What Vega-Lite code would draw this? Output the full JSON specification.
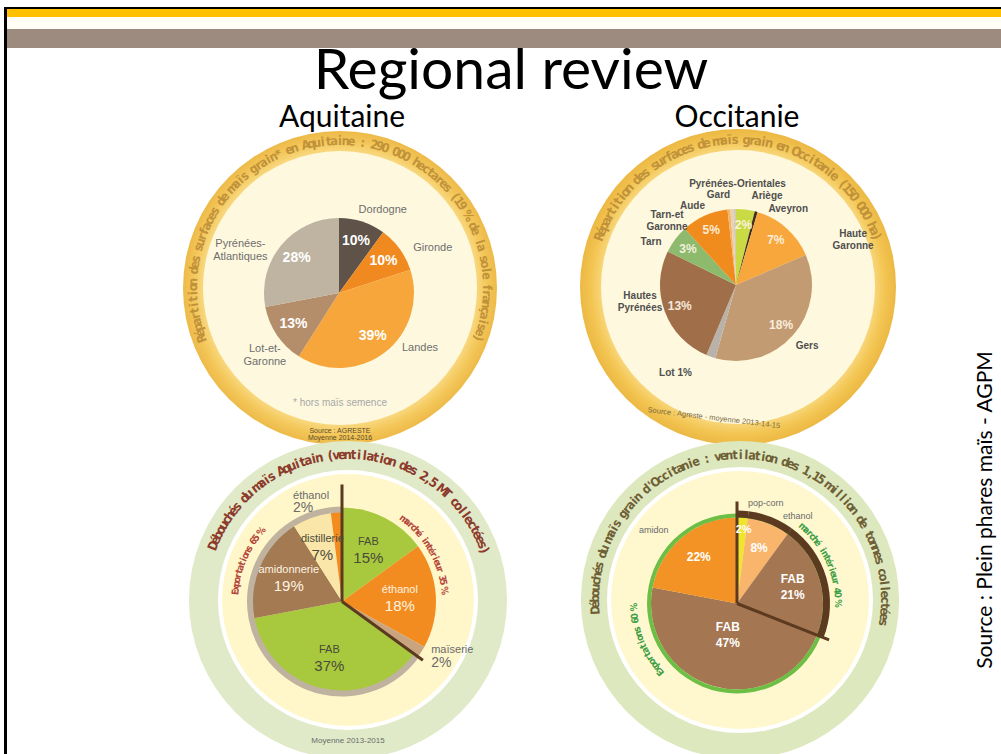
{
"$schema":"https://vega.github.io/schema/vega-lite/v6.json",
"background":"#FFFFFF",
"padding":{"left":4,"top":7,"right":0,"bottom":0},
"config":{"view":{"stroke":null},"font":"Liberation Sans"},
"datasets":{
"p1":[{"d":"Dordogne","v":0.10},{"d":"Gironde","v":0.10},{"d":"Landes","v":0.39},{"d":"Lot-et-\nGaronne","v":0.13},{"d":"Pyrénées-\nAtlantiques","v":0.28}],
"p2":[{"d":"Ariège","lab":"Ariège","v":0.02},{"d":"Aveyron","lab":"Aveyron","v":0.003},{"d":"Haute-Garonne","lab":"Haute\nGaronne","v":0.07},{"d":"Gers","lab":"Gers","v":0.18},{"d":"Lot","lab":"Lot 1%","v":0.01},{"d":"Hautes-Pyrénées","lab":"Hautes\nPyrénées","v":0.13},{"d":"Tarn","lab":"Tarn","v":0.03},{"d":"Tarn-et-Garonne","lab":"Tarn-et\nGaronne","v":0.05},{"d":"Aude","lab":"Aude","v":0.003},{"d":"Gard","lab":"Gard","v":0.003},{"d":"Pyrénées-Orientales","lab":"Pyrénées-Orientales","v":0.003}],
"p3":[{"d":"FAB","g":"int","v":0.15},{"d":"éthanol","g":"int","v":0.18},{"d":"maïserie","g":"int","v":0.02},{"d":"FAB","g":"exp","v":0.37},{"d":"amidonnerie","g":"exp","v":0.19},{"d":"distillerie","g":"exp","v":0.07},{"d":"éthanol","g":"exp","v":0.02}],
"p4":[{"d":"pop-corn","g":"int","v":0.02},{"d":"ethanol","g":"int","v":0.08},{"d":"FAB","g":"int","v":0.21},{"d":"FAB","g":"exp","v":0.47},{"d":"amidon","g":"exp","v":0.22}],
"t1":[{"c":["R","é","p","a","r","t","i","t","i","o","n"," ","d","e","s"," ","s","u","r","f","a","c","e","s"," ","d","e"," ","m","a","ï","s"," ","g","r","a","i","n","*"," ","e","n"," ","A","q","u","i","t","a","i","n","e"," ",":"," ","2","9","0"," ","0","0","0"," ","h","e","c","t","a","r","e","s"," ","(","1","9"," ","%"," ","d","e"," ","l","a"," ","s","o","l","e"," ","f","r","a","n","ç","a","i","s","e",")"]}],
"t2":[{"c":["R","é","p","a","r","t","i","t","i","o","n"," ","d","e","s"," ","s","u","r","f","a","c","e","s"," ","d","e"," ","m","a","ï","s"," ","g","r","a","i","n"," ","e","n"," ","O","c","c","i","t","a","n","i","e"," ","(","1","5","0"," ","0","0","0"," ","h","a",")"]}],
"t3":[{"c":["D","é","b","o","u","c","h","é","s"," ","d","u"," ","m","a","ï","s"," ","A","q","u","i","t","a","i","n"," ","(","v","e","n","t","i","l","a","t","i","o","n"," ","d","e","s"," ","2",",","5"," ","M","T"," ","c","o","l","l","e","c","t","é","e","s",")"]}],
"t4":[{"c":["D","é","b","o","u","c","h","é","s"," ","d","u"," ","m","a","ï","s"," ","g","r","a","i","n"," ","d","'","O","c","c","i","t","a","n","i","e"," ",":"," ","v","e","n","t","i","l","a","t","i","o","n"," ","d","e","s"," ","1",",","1","5"," ","m","i","l","l","i","o","n"," ","d","e"," ","t","o","n","n","e","s"," ","c","o","l","l","e","c","t","é","e","s"]}],
"i3a":[{"c":["E","x","p","o","r","t","a","t","i","o","n","s"," ","6","5"," ","%"]}],
"i3b":[{"c":["m","a","r","c","h","é"," ","i","n","t","é","r","i","e","u","r"," ","3","5"," ","%"]}],
"i4a":[{"c":["E","x","p","o","r","t","a","t","i","o","n","s"," ","6","0"," ","%"]}],
"i4b":[{"c":["m","a","r","c","h","é"," ","i","n","t","é","r","i","e","u","r"," ","4","0"," ","%"]}]
},
"spacing":0,
"bounds":"flush",
"resolve":{"scale":{"color":"independent","theta":"independent","angle":"independent"}},
"hconcat":[
{"width":3,"height":747,"view":{"fill":"#000000"},"data":{"values":[]},"mark":"point","encoding":{}},
{"spacing":0,"bounds":"flush","resolve":{"scale":{"color":"independent","theta":"independent","angle":"independent"}},"vconcat":[
{"width":994,"height":2,"view":{"fill":"#000000"},"data":{"values":[]},"mark":"point","encoding":{}},
{"width":994,"height":8,"view":{"fill":"#FFC000"},"data":{"values":[]},"mark":"point","encoding":{}},
{"width":994,"height":12,"view":{"fill":"#FFFDF4"},"data":{"values":[]},"mark":"point","encoding":{}},
{"width":994,"height":19,"view":{"fill":"#9E8B7F"},"data":{"values":[]},"mark":"point","encoding":{}},
{"width":994,"height":48,"data":{"values":[{}]},"mark":{"type":"text","text":"Regional review","font":"Lato","fontSize":57,"fill":"#000000","baseline":"alphabetic","dx":7,"dy":17},"encoding":{}},
{"spacing":0,"bounds":"full","resolve":{"scale":{"color":"independent","theta":"independent","angle":"independent"}},"hconcat":[
{"width":135,"height":658,"data":{"values":[]},"mark":"point","encoding":{}},
{"spacing":0,"bounds":"flush","resolve":{"scale":{"color":"independent","theta":"independent","angle":"independent"}},"vconcat":[
{"width":400,"height":35,"data":{"values":[{}]},"mark":{"type":"text","text":"Aquitaine","font":"Lato","fontSize":30,"fill":"#000000","baseline":"alphabetic","dy":13.5},"encoding":{}},
{"width":400,"height":312,
"resolve":{"scale":{"theta":"independent","angle":"independent"}},
"layer":[
{"data":{"values":[{}]},"mark":{"type":"arc","theta":0,"theta2":6.2832,"radius":157,"xOffset":-2,"yOffset":1,"fill":{"gradient":"radial","x1":0.5,"y1":0.5,"x2":0.5,"y2":0.5,"r1":0,"r2":0.5,"stops":[{"offset":0.86,"color":"#F9DB85"},{"offset":0.93,"color":"#F4C85C"},{"offset":1,"color":"#EDBA48"}]}},"encoding":{}},
{"data":{"values":[{}]},"mark":{"type":"arc","theta":0,"theta2":6.2832,"radius":137,"fill":"#FEF8DE","xOffset":-2,"yOffset":1},"encoding":{}},
{"data":{"name":"t1"},"transform":[{"flatten":["c"]},{"window":[{"op":"row_number","as":"k"}]}],"mark":{"type":"text","radius":147,"xOffset":-2,"yOffset":1,"font":"Liberation Sans Narrow, DejaVu Sans Condensed","fontSize":12.5,"fontWeight":"bold","fill":"#C1923A","baseline":"middle"},"encoding":{"theta":{"field":"k","type":"quantitative","scale":{"zero":false,"nice":false,"range":[-1.9199,1.9199]}},"angle":{"field":"k","type":"quantitative","scale":{"zero":false,"nice":false,"range":[-110,110]}},"text":{"field":"c","type":"nominal"}}},
{"data":{"name":"p1"},"transform":[{"window":[{"op":"row_number","as":"i"}]}],"mark":{"type":"arc","radius":75,"xOffset":-3,"yOffset":6},"encoding":{"theta":{"field":"v","type":"quantitative","stack":true},"order":{"field":"i","type":"quantitative"},"color":{"field":"d","type":"nominal","legend":null,"scale":{"domain":["Dordogne","Gironde","Landes","Lot-et-\nGaronne","Pyrénées-\nAtlantiques"],"range":["#5E5249","#F08A20","#F7A63B","#B48D6A","#BFB4A2"]}}}},
{"data":{"name":"p1"},"transform":[{"window":[{"op":"row_number","as":"i"}]}],"mark":{"type":"text","radius":55,"xOffset":-3,"yOffset":6,"fontSize":14,"fontWeight":"bold","fill":"#FFFFFF"},"encoding":{"theta":{"field":"v","type":"quantitative","stack":true},"order":{"field":"i","type":"quantitative"},"text":{"field":"v","type":"quantitative","format":".0%"}}},
{"data":{"name":"p1"},"transform":[{"window":[{"op":"row_number","as":"i"}]}],"mark":{"type":"text","radius":80,"xOffset":-3,"yOffset":6,"dx":19,"dy":-7,"fontSize":11,"fill":"#6E6E6E","lineBreak":"\n"},"encoding":{"theta":{"field":"v","type":"quantitative","stack":true},"order":{"field":"i","type":"quantitative"},"text":{"condition":{"test":"datum.i===1","field":"d","type":"nominal"},"value":""}}},
{"data":{"name":"p1"},"transform":[{"window":[{"op":"row_number","as":"i"}]}],"mark":{"type":"text","radius":80,"xOffset":-3,"yOffset":6,"dx":29,"dy":2,"fontSize":11,"fill":"#6E6E6E","lineBreak":"\n"},"encoding":{"theta":{"field":"v","type":"quantitative","stack":true},"order":{"field":"i","type":"quantitative"},"text":{"condition":{"test":"datum.i===2","field":"d","type":"nominal"},"value":""}}},
{"data":{"name":"p1"},"transform":[{"window":[{"op":"row_number","as":"i"}]}],"mark":{"type":"text","radius":80,"xOffset":-3,"yOffset":6,"dx":32,"dy":-8,"fontSize":11,"fill":"#6E6E6E","lineBreak":"\n"},"encoding":{"theta":{"field":"v","type":"quantitative","stack":true},"order":{"field":"i","type":"quantitative"},"text":{"condition":{"test":"datum.i===3","field":"d","type":"nominal"},"value":""}}},
{"data":{"name":"p1"},"transform":[{"window":[{"op":"row_number","as":"i"}]}],"mark":{"type":"text","radius":80,"xOffset":-3,"yOffset":6,"dx":-8,"dy":11,"fontSize":11,"fill":"#6E6E6E","lineBreak":"\n"},"encoding":{"theta":{"field":"v","type":"quantitative","stack":true},"order":{"field":"i","type":"quantitative"},"text":{"condition":{"test":"datum.i===4","field":"d","type":"nominal"},"value":""}}},
{"data":{"name":"p1"},"transform":[{"window":[{"op":"row_number","as":"i"}]}],"mark":{"type":"text","radius":80,"xOffset":-3,"yOffset":6,"dx":-37,"dy":2,"fontSize":11,"fill":"#6E6E6E","lineBreak":"\n"},"encoding":{"theta":{"field":"v","type":"quantitative","stack":true},"order":{"field":"i","type":"quantitative"},"text":{"condition":{"test":"datum.i===5","field":"d","type":"nominal"},"value":""}}},
{"data":{"values":[{}]},"mark":{"type":"text","text":"* hors maïs semence","dx":-2,"dy":116,"fontSize":10,"fill":"#A8A8A8"},"encoding":{}},
{"data":{"values":[{}]},"mark":{"type":"text","text":"Source : AGRESTE","dx":-2,"dy":144,"fontSize":7,"fill":"#5B4B2A"},"encoding":{}},
{"data":{"values":[{}]},"mark":{"type":"text","text":"Moyenne 2014-2016","dx":-2,"dy":151,"fontSize":7,"fill":"#5B4B2A"},"encoding":{}}
]},
{"width":400,"height":311,
"resolve":{"scale":{"theta":"independent","angle":"independent"}},
"layer":[
{"data":{"values":[{}]},"mark":{"type":"arc","theta":0,"theta2":6.2832,"radius":159,"fill":"#E1EAC8","xOffset":6,"yOffset":1.5},"encoding":{}},
{"data":{"values":[{}]},"mark":{"type":"arc","theta":0,"theta2":6.2832,"radius":130,"fill":"#FFFFFF","xOffset":6,"yOffset":1.5},"encoding":{}},
{"data":{"values":[{}]},"mark":{"type":"arc","theta":0,"theta2":6.2832,"radius":126,"fill":"#FFF7CA","xOffset":6,"yOffset":1.5},"encoding":{}},
{"data":{"name":"t3"},"transform":[{"flatten":["c"]},{"window":[{"op":"row_number","as":"k"}]}],"mark":{"type":"text","radius":145,"xOffset":6,"yOffset":1.5,"font":"Liberation Sans Narrow, DejaVu Sans Condensed","fontSize":13,"fontWeight":"bold","fill":"#8C3B2C","baseline":"middle"},"encoding":{"theta":{"field":"k","type":"quantitative","scale":{"zero":false,"nice":false,"range":[-1.1868,1.2217]}},"angle":{"field":"k","type":"quantitative","scale":{"zero":false,"nice":false,"range":[-68,70]}},"text":{"field":"c","type":"nominal"}}},
{"data":{"name":"i3a"},"transform":[{"flatten":["c"]},{"window":[{"op":"row_number","as":"k"}]}],"mark":{"type":"text","radius":107,"yOffset":3,"font":"Liberation Sans Narrow, DejaVu Sans Condensed","fontSize":9.5,"fontWeight":"bold","fill":"#B5473A","baseline":"middle"},"encoding":{"theta":{"field":"k","type":"quantitative","scale":{"zero":false,"nice":false,"range":[4.7997,5.4280]}},"angle":{"field":"k","type":"quantitative","scale":{"zero":false,"nice":false,"range":[275,311]}},"text":{"field":"c","type":"nominal"}}},
{"data":{"name":"i3b"},"transform":[{"flatten":["c"]},{"window":[{"op":"row_number","as":"k"}]}],"mark":{"type":"text","radius":103,"yOffset":3,"font":"Liberation Sans Narrow, DejaVu Sans Condensed","fontSize":9.5,"fontWeight":"bold","fill":"#B5473A","baseline":"middle"},"encoding":{"theta":{"field":"k","type":"quantitative","scale":{"zero":false,"nice":false,"range":[0.6458,1.4661]}},"angle":{"field":"k","type":"quantitative","scale":{"zero":false,"nice":false,"range":[37,84]}},"text":{"field":"c","type":"nominal"}}},
{"data":{"name":"p3"},"transform":[{"window":[{"op":"row_number","as":"i"}]}],"mark":{"type":"arc","radius":94,"yOffset":3},"encoding":{"theta":{"field":"v","type":"quantitative","stack":true},"order":{"field":"i","type":"quantitative"},"color":{"field":"d","type":"nominal","legend":null,"scale":{"domain":["FAB","éthanol","maïserie","amidonnerie","distillerie"],"range":["#A8C93E","#F28C20","#C9A57F","#A37A52","#FAE6A8"]}}}},
{"data":{"name":"p3"},"transform":[{"window":[{"op":"row_number","as":"i"}]}],"mark":{"type":"arc","radius":95,"radius2":89,"yOffset":3},"encoding":{"theta":{"field":"v","type":"quantitative","stack":true},"order":{"field":"i","type":"quantitative"},"color":{"condition":{"test":"datum.g==='exp'","value":"#BFB29E"},"value":"transparent"}}},
{"data":{"name":"p3"},"transform":[{"window":[{"op":"row_number","as":"i"}]},{"stack":"v","groupby":[],"sort":[{"field":"i","order":"ascending"}],"as":["s0","s1"]},{"joinaggregate":[{"op":"min","field":"i","as":"mi"}],"groupby":["g"]},{"filter":"datum.i===datum.mi && datum.g==='int'"}],"mark":{"type":"arc","radius":117,"yOffset":3,"fill":"transparent","stroke":"#5B3A1F","strokeWidth":3},"encoding":{"theta":{"field":"s0","type":"quantitative","stack":null,"scale":{"domain":[0,1]}},"theta2":{"field":"s0"}}},
{"data":{"name":"p3"},"transform":[{"window":[{"op":"row_number","as":"i"}]},{"stack":"v","groupby":[],"sort":[{"field":"i","order":"ascending"}],"as":["s0","s1"]},{"joinaggregate":[{"op":"min","field":"i","as":"mi"}],"groupby":["g"]},{"filter":"datum.i===datum.mi && datum.g==='exp'"}],"mark":{"type":"arc","radius":100,"yOffset":3,"fill":"transparent","stroke":"#5B3A1F","strokeWidth":3},"encoding":{"theta":{"field":"s0","type":"quantitative","stack":null,"scale":{"domain":[0,1]}},"theta2":{"field":"s0"}}},
{"data":{"name":"p3"},"transform":[{"window":[{"op":"row_number","as":"i"}]}],"mark":{"type":"text","radius":58,"yOffset":3,"dy":-8,"fontSize":11},"encoding":{"theta":{"field":"v","type":"quantitative","stack":true},"order":{"field":"i","type":"quantitative"},"text":{"condition":{"test":"datum.v>0.03","field":"d","type":"nominal"},"value":""},"color":{"condition":{"test":"datum.i===2 || datum.i===5","value":"#FFF3E0"},"value":"#4A4A3A"}}},
{"data":{"name":"p3"},"transform":[{"window":[{"op":"row_number","as":"i"}]}],"mark":{"type":"text","radius":58,"yOffset":3,"dy":8,"fontSize":15},"encoding":{"theta":{"field":"v","type":"quantitative","stack":true},"order":{"field":"i","type":"quantitative"},"text":{"condition":{"test":"datum.v>0.03","field":"v","type":"quantitative","format":".0%"},"value":""},"color":{"condition":{"test":"datum.i===2 || datum.i===5","value":"#FFF3E0"},"value":"#4A4A3A"}}},
{"data":{"name":"p3"},"transform":[{"window":[{"op":"row_number","as":"i"}]}],"mark":{"type":"text","radius":95,"yOffset":3,"dx":-43,"dy":-11,"align":"left","fontSize":11,"fill":"#6A6A6A"},"encoding":{"theta":{"field":"v","type":"quantitative","stack":true},"order":{"field":"i","type":"quantitative"},"text":{"condition":{"test":"datum.i===7","field":"d","type":"nominal"},"value":""}}},
{"data":{"name":"p3"},"transform":[{"window":[{"op":"row_number","as":"i"}]}],"mark":{"type":"text","radius":95,"yOffset":3,"dx":-43,"dy":1,"align":"left","fontSize":14,"fill":"#6A6A6A"},"encoding":{"theta":{"field":"v","type":"quantitative","stack":true},"order":{"field":"i","type":"quantitative"},"text":{"condition":{"test":"datum.i===7","field":"v","type":"quantitative","format":".0%"},"value":""}}},
{"data":{"name":"p3"},"transform":[{"window":[{"op":"row_number","as":"i"}]}],"mark":{"type":"text","radius":95,"yOffset":3,"dx":9,"dy":-2,"align":"left","fontSize":11,"fill":"#6A6A6A"},"encoding":{"theta":{"field":"v","type":"quantitative","stack":true},"order":{"field":"i","type":"quantitative"},"text":{"condition":{"test":"datum.i===3","field":"d","type":"nominal"},"value":""}}},
{"data":{"name":"p3"},"transform":[{"window":[{"op":"row_number","as":"i"}]}],"mark":{"type":"text","radius":95,"yOffset":3,"dx":9,"dy":11,"align":"left","fontSize":14,"fill":"#6A6A6A"},"encoding":{"theta":{"field":"v","type":"quantitative","stack":true},"order":{"field":"i","type":"quantitative"},"text":{"condition":{"test":"datum.i===3","field":"v","type":"quantitative","format":".0%"},"value":""}}},
{"data":{"values":[{}]},"mark":{"type":"text","text":"Moyenne 2013-2015","dx":6,"dy":142,"fontSize":8,"fill":"#6A6A6A"},"encoding":{}}
]}
]},
{"spacing":0,"bounds":"flush","resolve":{"scale":{"color":"independent","theta":"independent","angle":"independent"}},"vconcat":[
{"width":390,"height":35,"data":{"values":[{}]},"mark":{"type":"text","text":"Occitanie","font":"Lato","fontSize":30,"fill":"#000000","baseline":"alphabetic","dy":13.5},"encoding":{}},
{"width":390,"height":312,
"resolve":{"scale":{"theta":"independent","angle":"independent"}},
"layer":[
{"data":{"values":[{}]},"mark":{"type":"arc","theta":0,"theta2":6.2832,"radius":158,"xOffset":1,"fill":{"gradient":"radial","x1":0.5,"y1":0.5,"x2":0.5,"y2":0.5,"r1":0,"r2":0.5,"stops":[{"offset":0.86,"color":"#F8D77C"},{"offset":0.93,"color":"#F3C552"},{"offset":1,"color":"#ECB843"}]}},"encoding":{}},
{"data":{"values":[{}]},"mark":{"type":"arc","theta":0,"theta2":6.2832,"radius":137,"fill":"#FEF8DE","xOffset":1},"encoding":{}},
{"data":{"name":"t2"},"transform":[{"flatten":["c"]},{"window":[{"op":"row_number","as":"k"}]}],"mark":{"type":"text","radius":147,"xOffset":1,"font":"Liberation Sans Narrow, DejaVu Sans Condensed","fontSize":13,"fontWeight":"bold","fill":"#C1923A","baseline":"middle"},"encoding":{"theta":{"field":"k","type":"quantitative","scale":{"zero":false,"nice":false,"range":[-1.2217,1.2217]}},"angle":{"field":"k","type":"quantitative","scale":{"zero":false,"nice":false,"range":[-70,70]}},"text":{"field":"c","type":"nominal"}}},
{"data":{"name":"p2"},"transform":[{"window":[{"op":"row_number","as":"i"}]}],"mark":{"type":"arc","radius":76,"xOffset":-1,"yOffset":-2},"encoding":{"theta":{"field":"v","type":"quantitative","stack":true},"order":{"field":"i","type":"quantitative"},"color":{"field":"d","type":"nominal","legend":null,"scale":{"domain":["Ariège","Aveyron","Haute-Garonne","Gers","Lot","Hautes-Pyrénées","Tarn","Tarn-et-Garonne","Aude","Gard","Pyrénées-Orientales"],"range":["#C9DA45","#3E2C20","#F7A73C","#C39B72","#B9B2AA","#A06F4A","#8EBA6E","#F08B1E","#F4B26A","#E6D3AE","#D7CBB8"]}}}},
{"data":{"name":"p2"},"transform":[{"window":[{"op":"row_number","as":"i"}]}],"mark":{"type":"text","radius":60,"xOffset":-1,"yOffset":-2,"fontSize":12,"fontWeight":"bold","fill":"#FFF6E6","opacity":0.9},"encoding":{"theta":{"field":"v","type":"quantitative","stack":true},"order":{"field":"i","type":"quantitative"},"text":{"condition":{"test":"datum.v>=0.02","field":"v","type":"quantitative","format":".0%"},"value":""}}},
{"data":{"name":"p2"},"transform":[{"window":[{"op":"row_number","as":"i"}]}],"mark":{"type":"text","radius":80,"xOffset":-1,"yOffset":-2,"dx":21,"dy":-10,"fontSize":10,"fontWeight":"bold","fill":"#4F4F4F","lineBreak":"\n"},"encoding":{"theta":{"field":"v","type":"quantitative","stack":true},"order":{"field":"i","type":"quantitative"},"text":{"condition":{"test":"datum.i===1","field":"lab","type":"nominal"},"value":""}}},
{"data":{"name":"p2"},"transform":[{"window":[{"op":"row_number","as":"i"}]}],"mark":{"type":"text","radius":80,"xOffset":-1,"yOffset":-2,"dx":31,"dy":1,"fontSize":10,"fontWeight":"bold","fill":"#4F4F4F","lineBreak":"\n"},"encoding":{"theta":{"field":"v","type":"quantitative","stack":true},"order":{"field":"i","type":"quantitative"},"text":{"condition":{"test":"datum.i===2","field":"lab","type":"nominal"},"value":""}}},
{"data":{"name":"p2"},"transform":[{"window":[{"op":"row_number","as":"i"}]}],"mark":{"type":"text","radius":80,"xOffset":-1,"yOffset":-2,"dx":64,"dy":9,"fontSize":10,"fontWeight":"bold","fill":"#4F4F4F","lineBreak":"\n"},"encoding":{"theta":{"field":"v","type":"quantitative","stack":true},"order":{"field":"i","type":"quantitative"},"text":{"condition":{"test":"datum.i===3","field":"lab","type":"nominal"},"value":""}}},
{"data":{"name":"p2"},"transform":[{"window":[{"op":"row_number","as":"i"}]}],"mark":{"type":"text","radius":80,"xOffset":-1,"yOffset":-2,"dx":11,"dy":8,"fontSize":10,"fontWeight":"bold","fill":"#4F4F4F","lineBreak":"\n"},"encoding":{"theta":{"field":"v","type":"quantitative","stack":true},"order":{"field":"i","type":"quantitative"},"text":{"condition":{"test":"datum.i===4","field":"lab","type":"nominal"},"value":""}}},
{"data":{"name":"p2"},"transform":[{"window":[{"op":"row_number","as":"i"}]}],"mark":{"type":"text","radius":80,"xOffset":-1,"yOffset":-2,"dx":-34,"dy":13,"fontSize":10,"fontWeight":"bold","fill":"#4F4F4F","lineBreak":"\n"},"encoding":{"theta":{"field":"v","type":"quantitative","stack":true},"order":{"field":"i","type":"quantitative"},"text":{"condition":{"test":"datum.i===5","field":"lab","type":"nominal"},"value":""}}},
{"data":{"name":"p2"},"transform":[{"window":[{"op":"row_number","as":"i"}]}],"mark":{"type":"text","radius":80,"xOffset":-1,"yOffset":-2,"dx":-21,"dy":-17,"fontSize":10,"fontWeight":"bold","fill":"#4F4F4F","lineBreak":"\n"},"encoding":{"theta":{"field":"v","type":"quantitative","stack":true},"order":{"field":"i","type":"quantitative"},"text":{"condition":{"test":"datum.i===6","field":"lab","type":"nominal"},"value":""}}},
{"data":{"name":"p2"},"transform":[{"window":[{"op":"row_number","as":"i"}]}],"mark":{"type":"text","radius":80,"xOffset":-1,"yOffset":-2,"dx":-21,"dy":5,"fontSize":10,"fontWeight":"bold","fill":"#4F4F4F","lineBreak":"\n"},"encoding":{"theta":{"field":"v","type":"quantitative","stack":true},"order":{"field":"i","type":"quantitative"},"text":{"condition":{"test":"datum.i===7","field":"lab","type":"nominal"},"value":""}}},
{"data":{"name":"p2"},"transform":[{"window":[{"op":"row_number","as":"i"}]}],"mark":{"type":"text","radius":80,"xOffset":-1,"yOffset":-2,"dx":-36,"dy":3,"fontSize":10,"fontWeight":"bold","fill":"#4F4F4F","lineBreak":"\n"},"encoding":{"theta":{"field":"v","type":"quantitative","stack":true},"order":{"field":"i","type":"quantitative"},"text":{"condition":{"test":"datum.i===8","field":"lab","type":"nominal"},"value":""}}},
{"data":{"name":"p2"},"transform":[{"window":[{"op":"row_number","as":"i"}]}],"mark":{"type":"text","radius":80,"xOffset":-1,"yOffset":-2,"dx":-36,"dy":1,"fontSize":10,"fontWeight":"bold","fill":"#4F4F4F","lineBreak":"\n"},"encoding":{"theta":{"field":"v","type":"quantitative","stack":true},"order":{"field":"i","type":"quantitative"},"text":{"condition":{"test":"datum.i===9","field":"lab","type":"nominal"},"value":""}}},
{"data":{"name":"p2"},"transform":[{"window":[{"op":"row_number","as":"i"}]}],"mark":{"type":"text","radius":80,"xOffset":-1,"yOffset":-2,"dx":-13,"dy":-10,"fontSize":10,"fontWeight":"bold","fill":"#4F4F4F","lineBreak":"\n"},"encoding":{"theta":{"field":"v","type":"quantitative","stack":true},"order":{"field":"i","type":"quantitative"},"text":{"condition":{"test":"datum.i===10","field":"lab","type":"nominal"},"value":""}}},
{"data":{"name":"p2"},"transform":[{"window":[{"op":"row_number","as":"i"}]}],"mark":{"type":"text","radius":80,"xOffset":-1,"yOffset":-2,"dx":3,"dy":-21,"fontSize":10,"fontWeight":"bold","fill":"#4F4F4F","lineBreak":"\n"},"encoding":{"theta":{"field":"v","type":"quantitative","stack":true},"order":{"field":"i","type":"quantitative"},"text":{"condition":{"test":"datum.i===11","field":"lab","type":"nominal"},"value":""}}},
{"data":{"values":[{}]},"mark":{"type":"text","text":"Source : Agreste - moyenne 2013-14-15","dx":-7,"dy":133,"angle":7,"fontSize":7.5,"fill":"#7A6A40"},"encoding":{}}
]},
{"width":390,"height":311,
"resolve":{"scale":{"theta":"independent","angle":"independent"}},
"layer":[
{"data":{"values":[{}]},"mark":{"type":"arc","theta":0,"theta2":6.2832,"radius":159,"fill":"#DDE8BE","xOffset":3,"yOffset":1.5},"encoding":{}},
{"data":{"values":[{}]},"mark":{"type":"arc","theta":0,"theta2":6.2832,"radius":133,"fill":"#FFFFFF","xOffset":3,"yOffset":1.5},"encoding":{}},
{"data":{"values":[{}]},"mark":{"type":"arc","theta":0,"theta2":6.2832,"radius":129,"fill":"#FFF8CF","xOffset":3,"yOffset":1.5},"encoding":{}},
{"data":{"name":"t4"},"transform":[{"flatten":["c"]},{"window":[{"op":"row_number","as":"k"}]}],"mark":{"type":"text","radius":145,"xOffset":3,"yOffset":1.5,"font":"Liberation Sans Narrow, DejaVu Sans Condensed","fontSize":12.5,"fontWeight":"bold","fill":"#6F5F35","baseline":"middle"},"encoding":{"theta":{"field":"k","type":"quantitative","scale":{"zero":false,"nice":false,"range":[-1.6406,1.7279]}},"angle":{"field":"k","type":"quantitative","scale":{"zero":false,"nice":false,"range":[-94,99]}},"text":{"field":"c","type":"nominal"}}},
{"data":{"name":"i4a"},"transform":[{"flatten":["c"]},{"window":[{"op":"row_number","as":"k"}]}],"mark":{"type":"text","radius":103,"yOffset":5,"font":"Liberation Sans Narrow, DejaVu Sans Condensed","fontSize":9.5,"fontWeight":"bold","fill":"#3E9E45","baseline":"middle"},"encoding":{"theta":{"field":"k","type":"quantitative","scale":{"zero":false,"nice":false,"range":[3.9794,4.6775]}},"angle":{"field":"k","type":"quantitative","scale":{"zero":false,"nice":false,"range":[228,268]}},"text":{"field":"c","type":"nominal"}}},
{"data":{"name":"i4b"},"transform":[{"flatten":["c"]},{"window":[{"op":"row_number","as":"k"}]}],"mark":{"type":"text","radius":101,"yOffset":5,"font":"Liberation Sans Narrow, DejaVu Sans Condensed","fontSize":9.5,"fontWeight":"bold","fill":"#3E9E45","baseline":"middle"},"encoding":{"theta":{"field":"k","type":"quantitative","scale":{"zero":false,"nice":false,"range":[0.7156,1.5708]}},"angle":{"field":"k","type":"quantitative","scale":{"zero":false,"nice":false,"range":[41,90]}},"text":{"field":"c","type":"nominal"}}},
{"data":{"name":"p4"},"transform":[{"window":[{"op":"row_number","as":"i"}]}],"mark":{"type":"arc","radius":86,"yOffset":5},"encoding":{"theta":{"field":"v","type":"quantitative","stack":true},"order":{"field":"i","type":"quantitative"},"color":{"field":"d","type":"nominal","legend":null,"scale":{"domain":["pop-corn","ethanol","FAB","amidon"],"range":["#EFE52E","#FAB56C","#A47652","#F39325"]}}}},
{"data":{"values":[{}]},"mark":{"type":"arc","theta":0,"theta2":6.2832,"radius":90,"radius2":86,"fill":"#6CBE45","yOffset":5},"encoding":{}},
{"data":{"name":"p4"},"transform":[{"window":[{"op":"row_number","as":"i"}]}],"mark":{"type":"arc","radius":93,"radius2":86,"yOffset":5},"encoding":{"theta":{"field":"v","type":"quantitative","stack":true},"order":{"field":"i","type":"quantitative"},"color":{"condition":{"test":"datum.g==='int'","value":"#5B3A1F"},"value":"transparent"}}},
{"data":{"name":"p4"},"transform":[{"window":[{"op":"row_number","as":"i"}]},{"stack":"v","groupby":[],"sort":[{"field":"i","order":"ascending"}],"as":["s0","s1"]},{"joinaggregate":[{"op":"min","field":"i","as":"mi"}],"groupby":["g"]},{"filter":"datum.i===datum.mi && datum.g==='int'"}],"mark":{"type":"arc","radius":102,"yOffset":5,"fill":"transparent","stroke":"#5B3A1F","strokeWidth":3},"encoding":{"theta":{"field":"s0","type":"quantitative","stack":null,"scale":{"domain":[0,1]}},"theta2":{"field":"s0"}}},
{"data":{"name":"p4"},"transform":[{"window":[{"op":"row_number","as":"i"}]},{"stack":"v","groupby":[],"sort":[{"field":"i","order":"ascending"}],"as":["s0","s1"]},{"joinaggregate":[{"op":"min","field":"i","as":"mi"}],"groupby":["g"]},{"filter":"datum.i===datum.mi && datum.g==='exp'"}],"mark":{"type":"arc","radius":99,"yOffset":5,"fill":"transparent","stroke":"#5B3A1F","strokeWidth":3},"encoding":{"theta":{"field":"s0","type":"quantitative","stack":null,"scale":{"domain":[0,1]}},"theta2":{"field":"s0"}}},
{"data":{"name":"p4"},"transform":[{"window":[{"op":"row_number","as":"i"}]}],"mark":{"type":"text","radius":58,"yOffset":5,"dy":-8,"fontSize":12,"fontWeight":"bold","fill":"#FFFFFF"},"encoding":{"theta":{"field":"v","type":"quantitative","stack":true},"order":{"field":"i","type":"quantitative"},"text":{"condition":{"test":"datum.i===3","field":"d","type":"nominal"},"value":""}}},
{"data":{"name":"p4"},"transform":[{"window":[{"op":"row_number","as":"i"}]}],"mark":{"type":"text","radius":58,"yOffset":5,"dy":8,"fontSize":12,"fontWeight":"bold","fill":"#FFFFFF"},"encoding":{"theta":{"field":"v","type":"quantitative","stack":true},"order":{"field":"i","type":"quantitative"},"text":{"condition":{"test":"datum.i===3","field":"v","type":"quantitative","format":".0%"},"value":""}}},
{"data":{"name":"p4"},"transform":[{"window":[{"op":"row_number","as":"i"}]}],"mark":{"type":"text","radius":33,"yOffset":5,"dy":-8,"fontSize":12,"fontWeight":"bold","fill":"#FFFFFF"},"encoding":{"theta":{"field":"v","type":"quantitative","stack":true},"order":{"field":"i","type":"quantitative"},"text":{"condition":{"test":"datum.i===4","field":"d","type":"nominal"},"value":""}}},
{"data":{"name":"p4"},"transform":[{"window":[{"op":"row_number","as":"i"}]}],"mark":{"type":"text","radius":33,"yOffset":5,"dy":8,"fontSize":12,"fontWeight":"bold","fill":"#FFFFFF"},"encoding":{"theta":{"field":"v","type":"quantitative","stack":true},"order":{"field":"i","type":"quantitative"},"text":{"condition":{"test":"datum.i===4","field":"v","type":"quantitative","format":".0%"},"value":""}}},
{"data":{"name":"p4"},"transform":[{"window":[{"op":"row_number","as":"i"}]}],"mark":{"type":"text","radius":60,"yOffset":5,"fontSize":12,"fontWeight":"bold","fill":"#FFFFFF"},"encoding":{"theta":{"field":"v","type":"quantitative","stack":true},"order":{"field":"i","type":"quantitative"},"text":{"condition":{"test":"datum.i===2 || datum.i===5","field":"v","type":"quantitative","format":".0%"},"value":""}}},
{"data":{"name":"p4"},"transform":[{"window":[{"op":"row_number","as":"i"}]}],"mark":{"type":"text","radius":74,"yOffset":5,"dx":2,"fontSize":11,"fontWeight":"bold","fill":"#FFFFFF"},"encoding":{"theta":{"field":"v","type":"quantitative","stack":true},"order":{"field":"i","type":"quantitative"},"text":{"condition":{"test":"datum.i===1","field":"v","type":"quantitative","format":".0%"},"value":""}}},
{"data":{"name":"p4"},"transform":[{"window":[{"op":"row_number","as":"i"}]}],"mark":{"type":"text","radius":95,"yOffset":5,"dx":5,"dy":-6,"align":"left","fontSize":9,"fill":"#6A6A6A"},"encoding":{"theta":{"field":"v","type":"quantitative","stack":true},"order":{"field":"i","type":"quantitative"},"text":{"condition":{"test":"datum.i===1","field":"d","type":"nominal"},"value":""}}},
{"data":{"name":"p4"},"transform":[{"window":[{"op":"row_number","as":"i"}]}],"mark":{"type":"text","radius":95,"yOffset":5,"dx":11,"dy":1,"align":"left","fontSize":9,"fill":"#6A6A6A"},"encoding":{"theta":{"field":"v","type":"quantitative","stack":true},"order":{"field":"i","type":"quantitative"},"text":{"condition":{"test":"datum.i===2","field":"d","type":"nominal"},"value":""}}},
{"data":{"name":"p4"},"transform":[{"window":[{"op":"row_number","as":"i"}]}],"mark":{"type":"text","radius":95,"yOffset":5,"dx":-8,"dy":0,"align":"right","fontSize":9,"fill":"#6A6A6A"},"encoding":{"theta":{"field":"v","type":"quantitative","stack":true},"order":{"field":"i","type":"quantitative"},"text":{"condition":{"test":"datum.i===5","field":"d","type":"nominal"},"value":""}}}
]}
]},
{"width":38,"height":658,"data":{"values":[]},"mark":"point","encoding":{}},
{"spacing":0,"bounds":"flush","vconcat":[
{"width":31,"height":170,"data":{"values":[]},"mark":"point","encoding":{}},
{"width":31,"height":488,"data":{"values":[{}]},"mark":{"type":"text","text":"Source : Plein phares maïs - AGPM","font":"Lato","fontSize":21,"angle":270,"baseline":"middle","fill":"#000000"},"encoding":{}}
]}
]}
]}
]
}
